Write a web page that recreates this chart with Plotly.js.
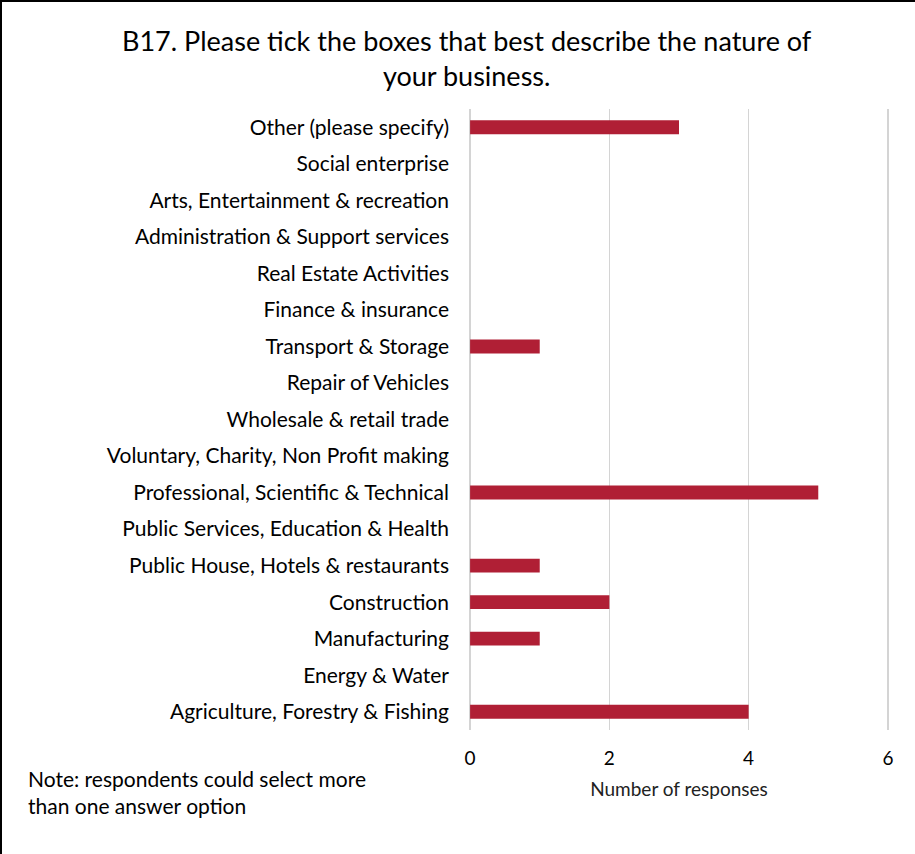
<!DOCTYPE html>
<html>
<head>
<meta charset="utf-8">
<script src="https://cdn.plot.ly/plotly-3.0.1.min.js"></script>
<style>
html,body{margin:0;padding:0;background:#fff;}
#wrap{position:absolute;left:0;top:0;width:915px;height:854px;box-sizing:border-box;border-left:2px solid #000;border-top:2px solid #000;pointer-events:none;}
#chart{position:absolute;left:0;top:0;width:915px;height:854px;}
</style>
</head>
<body>
<div id="chart"></div>
<div id="wrap"></div>
<script>
const categories = [
  "Agriculture, Forestry & Fishing",
  "Energy & Water",
  "Manufacturing",
  "Construction",
  "Public House, Hotels & restaurants",
  "Public Services, Education & Health",
  "Professional, Scientific & Technical",
  "Voluntary, Charity, Non Profit making",
  "Wholesale & retail trade",
  "Repair of Vehicles",
  "Transport & Storage",
  "Finance & insurance",
  "Real Estate Activities",
  "Administration & Support services",
  "Arts, Entertainment & recreation",
  "Social enterprise",
  "Other (please specify)"
];
const responses = [4, 0, 1, 2, 1, 0, 5, 0, 0, 0, 1, 0, 0, 0, 0, 0, 3];
const xTicks = [0, 2, 4, 6];
const titleText = "B17. Please tick the boxes that best describe the nature of<br>your business.";
const xTitle = "Number of responses";
const noteText = "Note: respondents could select more<br>than one answer option";

const font = "Lato, 'Open Sans', 'Liberation Sans', sans-serif";

const trace = {
  type: "bar",
  orientation: "h",
  y: categories,
  x: responses,
  width: 0.38,
  marker: {color: "#B01F35"},
  hoverinfo: "x+y"
};

const layout = {
  width: 915,
  height: 854,
  margin: {l: 468, r: 25, t: 109, b: 124},
  paper_bgcolor: "#fff",
  plot_bgcolor: "#fff",
  showlegend: false,
  font: {family: font, color: "#000"},
  title: {
    text: titleText,
    font: {family: font, size: 27, color: "#000"},
    x: 0.51,
    xanchor: "center",
    y: 0.94,
    yanchor: "top"
  },
  xaxis: {
    range: [-0.03, 6.03],
    tickvals: xTicks,
    ticktext: xTicks.map(String),
    showgrid: true,
    gridcolor: "#d4d4d4",
    gridwidth: 1.5,
    zeroline: true,
    zerolinecolor: "#d4d4d4",
    zerolinewidth: 1.5,
    showline: false,
    ticks: "",
    ticklabelstandoff: 15,
    tickfont: {family: font, size: 19, color: "#000"},
    title: {text: xTitle, font: {family: font, size: 19, color: "#222"}, standoff: 14}
  },
  yaxis: {
    type: "category",
    categoryorder: "array",
    categoryarray: categories,
    showgrid: false,
    zeroline: false,
    showline: false,
    ticks: "",
    ticklabelstandoff: 18,
    tickfont: {family: font, size: 21, color: "#000"},
    automargin: false
  },
  annotations: [{
    text: noteText,
    xref: "paper", yref: "paper",
    x: -468/422 + 26/422, y: -0.055,
    xanchor: "left", yanchor: "top",
    align: "left",
    showarrow: false,
    font: {family: font, size: 21, color: "#000"}
  }],
  bargap: 0.6
};

Plotly.newPlot("chart", [trace], layout, {displayModeBar: false, staticPlot: true});
</script>
</body>
</html>
